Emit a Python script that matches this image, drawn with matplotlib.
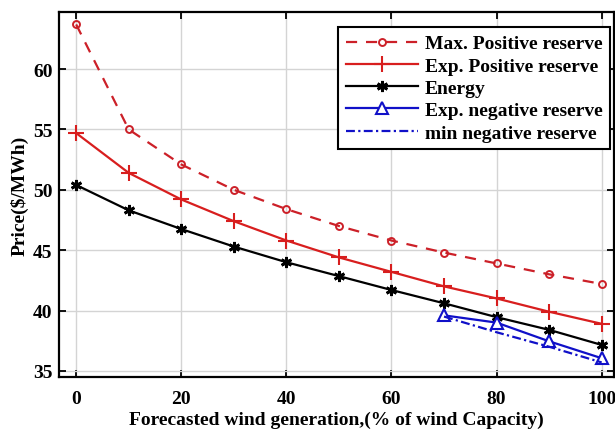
import numpy as np
import matplotlib
matplotlib.use("Agg")
import matplotlib.pyplot as plt

#####################
# data: price vs forecasted wind generation
wind = [0, 10, 20, 30, 40, 50, 60, 70, 80, 90, 100]
max_pos = [63.7, 55.0, 52.1, 50.0, 48.4, 47.0, 45.8, 44.8, 43.9, 43.0, 42.2]
exp_pos = [54.7, 51.4, 49.2, 47.4, 45.8, 44.4, 43.2, 42.0, 41.0, 39.9, 38.9]
energy = [50.4, 48.3, 46.75, 45.3, 44.0, 42.85, 41.7, 40.6, 39.45, 38.4, 37.15]
wind_neg = [70, 80, 90, 100]
exp_neg = [39.6, 39.0, 37.45, 36.05]
min_neg = [39.5, 38.2, 37.0, 35.7]
xticks = [0, 20, 40, 60, 80, 100]
yticks = [35, 40, 45, 50, 55, 60]
#####################

plt.rcParams['font.family'] = ['Liberation Serif', 'DejaVu Serif']
plt.rcParams['font.weight'] = 'bold'
plt.rcParams['font.size'] = 14

fig = plt.figure(figsize=(6.15, 4.31), dpi=100)
ax = fig.add_axes([0.0965, 0.124, 0.9015, 0.845])

red = '#d81e1e'
blue = '#1010c8'
ax.plot(wind, max_pos, color='#cc2028', linestyle=(0, (5, 4)), linewidth=1.6,
        marker='o', markersize=5, markerfacecolor='none', markeredgewidth=1.4,
        label='Max. Positive reserve')
ax.plot(wind, exp_pos, color=red, linewidth=1.6, marker='+', markersize=12,
        markeredgewidth=1.5, label='Exp. Positive reserve')
ax.plot(wind, energy, color='black', linewidth=1.6, marker=(6, 2, 0),
        markersize=8, markeredgewidth=2.0, label='Energy')
ax.plot(wind_neg, exp_neg, color=blue, linewidth=1.6, marker='^', markersize=9,
        markerfacecolor='white', markeredgewidth=1.5, label='Exp. negative reserve')
ax.plot(wind_neg, min_neg, color=blue, linewidth=1.6, linestyle=(0, (4, 1.5, 1, 1.5)),
        label='min negative reserve')

ax.set_xlim(-3.2, 102.3)
ax.set_ylim(34.53, 64.7)
ax.set_xticks(xticks)
ax.set_yticks(yticks)
ax.grid(True, color='#d4d4d4', linewidth=1.0)
ax.tick_params(direction='in', top=True, right=True, length=5, width=1.3)
ax.tick_params(axis='x', pad=10)
ax.tick_params(axis='y', pad=5)
for sp in ax.spines.values():
    sp.set_linewidth(1.6)

ax.set_xlabel('Forecasted wind generation,(% of wind Capacity)', fontweight='bold', labelpad=2)
ax.set_ylabel('Price($/MWh)', fontweight='bold', labelpad=3)

leg = ax.legend(loc='upper right', bbox_to_anchor=(0.992, 0.935), bbox_transform=fig.transFigure,
                borderaxespad=0, fancybox=False, framealpha=1, edgecolor='black',
                handlelength=3.7, handletextpad=0.35, labelspacing=0.24, borderpad=0.4,
                prop={'weight': 'bold', 'size': 14})
leg.get_frame().set_linewidth(1.5)

plt.savefig('out.png', dpi=100)
